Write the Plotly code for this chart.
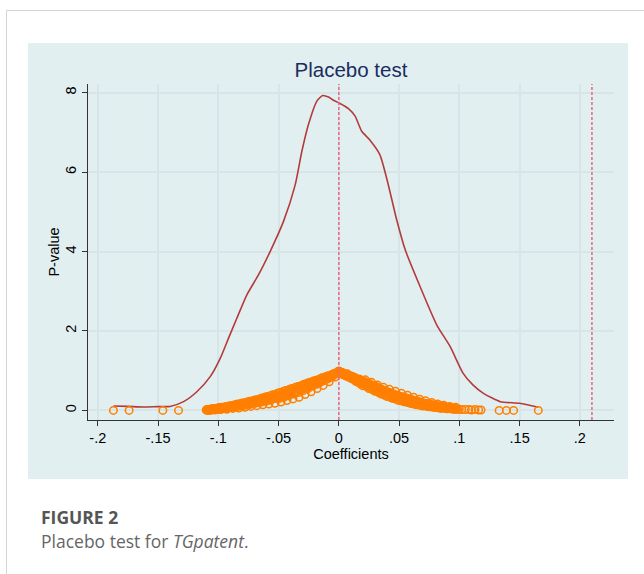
import plotly.graph_objects as go

# ---------------- data ----------------
# kernel density of placebo coefficients
kde_x = [-0.187, -0.175, -0.162, -0.150, -0.140, -0.1288, -0.1178, -0.1067, -0.0984, -0.0915,
         -0.0846, -0.0763, -0.0667, -0.0570, -0.0459, -0.0362, -0.0307, -0.0252, -0.0182, -0.0133,
         -0.0086, -0.0045, 0.001, 0.008, 0.0135, 0.019, 0.0254, 0.034, 0.040, 0.048,
         0.055, 0.0674, 0.0813, 0.0923, 0.103, 0.111, 0.120, 0.134, 0.150, 0.1655]
kde_y = [0.11, 0.10, 0.085, 0.095, 0.10, 0.22, 0.47, 0.85, 1.31, 1.82,
         2.32, 2.91, 3.41, 4.00, 4.76, 5.68, 6.52, 7.20, 7.79, 7.93,
         7.89, 7.81, 7.73, 7.60, 7.41, 7.03, 6.82, 6.44, 5.81, 4.80,
         4.05, 3.12, 2.15, 1.61, 0.94, 0.65, 0.43, 0.22, 0.18, 0.08]

# placebo coefficients (left of zero) and their p-values
coef_left = [-0.187, -0.174, -0.146, -0.133,
             -0.1100, -0.1090, -0.1080, -0.1070, -0.1060, -0.1050, -0.1040, -0.1030, -0.1020, -0.1010,
             -0.1000, -0.0990, -0.0980, -0.0970, -0.0960, -0.0950, -0.0940, -0.0930, -0.0920, -0.0910,
             -0.0900, -0.0890, -0.0880, -0.0870, -0.0860, -0.0850, -0.0840, -0.0830, -0.0820, -0.0810,
             -0.0800, -0.0790, -0.0780, -0.0770, -0.0760, -0.0750, -0.0740, -0.0730, -0.0720, -0.0710,
             -0.0700, -0.0690, -0.0680, -0.0670, -0.0660, -0.0650, -0.0640, -0.0630, -0.0620, -0.0610,
             -0.0600, -0.0590, -0.0580, -0.0570, -0.0560, -0.0550, -0.0540, -0.0530, -0.0520, -0.0510,
             -0.0500, -0.0490, -0.0480, -0.0470, -0.0460, -0.0450, -0.0440, -0.0430, -0.0420, -0.0410,
             -0.0400, -0.0390, -0.0380, -0.0370, -0.0360, -0.0350, -0.0340, -0.0330, -0.0320, -0.0310,
             -0.0300, -0.0290, -0.0280, -0.0270, -0.0260, -0.0250, -0.0240, -0.0230, -0.0220, -0.0210,
             -0.0200, -0.0190, -0.0180, -0.0170, -0.0160, -0.0150, -0.0140, -0.0130, -0.0120, -0.0110,
             -0.0100, -0.0090, -0.0080, -0.0070, -0.0060, -0.0050, -0.0040, -0.0030, -0.0020, -0.0010,
             0.0000]
pval_left = [0.00, 0.00, 0.00, 0.00,
             0.01, 0.00, 0.02, 0.01, 0.03, 0.03, 0.04, 0.01, 0.05, 0.03,
             0.04, 0.07, 0.02, 0.06, 0.08, 0.06, 0.09, 0.03, 0.07, 0.11,
             0.08, 0.12, 0.05, 0.10, 0.14, 0.11, 0.16, 0.06, 0.12, 0.18,
             0.13, 0.19, 0.08, 0.15, 0.21, 0.16, 0.23, 0.10, 0.18, 0.25,
             0.19, 0.27, 0.12, 0.21, 0.29, 0.22, 0.31, 0.14, 0.24, 0.34,
             0.25, 0.35, 0.16, 0.27, 0.38, 0.29, 0.40, 0.18, 0.31, 0.43,
             0.33, 0.45, 0.21, 0.35, 0.48, 0.38, 0.50, 0.25, 0.40, 0.53,
             0.43, 0.55, 0.29, 0.45, 0.58, 0.48, 0.60, 0.33, 0.51, 0.63,
             0.54, 0.66, 0.40, 0.57, 0.69, 0.60, 0.71, 0.47, 0.63, 0.74,
             0.67, 0.76, 0.55, 0.69, 0.79, 0.73, 0.82, 0.63, 0.76, 0.85,
             0.80, 0.87, 0.72, 0.83, 0.90, 0.88, 0.93, 0.84, 0.94, 0.97,
             0.99]

# further placebo draws, left of zero
coef_left2 = [-0.1095, -0.1085, -0.1075, -0.1065, -0.1055, -0.1045, -0.1035, -0.1025, -0.1015, -0.1005,
              -0.0995, -0.0985, -0.0975, -0.0965, -0.0955, -0.0945, -0.0935, -0.0925, -0.0915, -0.0905,
              -0.0895, -0.0885, -0.0875, -0.0865, -0.0855, -0.0845, -0.0835, -0.0825, -0.0815, -0.0805,
              -0.0795, -0.0785, -0.0775, -0.0765, -0.0755, -0.0745, -0.0735, -0.0725, -0.0715, -0.0705,
              -0.0695, -0.0685, -0.0675, -0.0665, -0.0655, -0.0645, -0.0635, -0.0625, -0.0615, -0.0605,
              -0.0595, -0.0585, -0.0575, -0.0565, -0.0555, -0.0545, -0.0535, -0.0525, -0.0515, -0.0505,
              -0.0495, -0.0485, -0.0475, -0.0465, -0.0455, -0.0445, -0.0435, -0.0425, -0.0415, -0.0405,
              -0.0395, -0.0385, -0.0375, -0.0365, -0.0355, -0.0345, -0.0335, -0.0325, -0.0315, -0.0305,
              -0.0295, -0.0285, -0.0275, -0.0265, -0.0255, -0.0245, -0.0235, -0.0225, -0.0215, -0.0205,
              -0.0195, -0.0185, -0.0175, -0.0165, -0.0155, -0.0145, -0.0135, -0.0125, -0.0115, -0.0105,
              -0.0095, -0.0085, -0.0075, -0.0065, -0.0055, -0.0045, -0.0035, -0.0025, -0.0015, -0.0005]
pval_left2 = [0.02, 0.01, 0.02, 0.00, 0.04, 0.02, 0.03, 0.05, 0.02, 0.06,
              0.04, 0.05, 0.08, 0.04, 0.07, 0.05, 0.09, 0.06, 0.08, 0.11,
              0.07, 0.09, 0.13, 0.08, 0.12, 0.10, 0.14, 0.11, 0.15, 0.12,
              0.16, 0.13, 0.18, 0.14, 0.17, 0.20, 0.15, 0.21, 0.17, 0.23,
              0.18, 0.22, 0.25, 0.19, 0.26, 0.21, 0.28, 0.23, 0.27, 0.30,
              0.24, 0.32, 0.26, 0.33, 0.28, 0.35, 0.30, 0.37, 0.32, 0.39,
              0.30, 0.40, 0.36, 0.42, 0.33, 0.44, 0.39, 0.47, 0.37, 0.49,
              0.43, 0.51, 0.41, 0.53, 0.46, 0.55, 0.45, 0.58, 0.52, 0.60,
              0.50, 0.62, 0.58, 0.64, 0.55, 0.67, 0.62, 0.69, 0.61, 0.72,
              0.68, 0.74, 0.66, 0.76, 0.71, 0.79, 0.74, 0.81, 0.78, 0.84,
              0.79, 0.86, 0.84, 0.88, 0.86, 0.91, 0.90, 0.93, 0.95, 0.98]

# placebo coefficients (right of zero) and their p-values
coef_right = [0.0010, 0.0020, 0.0030, 0.0040, 0.0050, 0.0060, 0.0070, 0.0080, 0.0090, 0.0100,
              0.0110, 0.0120, 0.0130, 0.0140, 0.0150, 0.0160, 0.0170, 0.0180, 0.0190, 0.0200,
              0.0210, 0.0220, 0.0230, 0.0240, 0.0250, 0.0260, 0.0270, 0.0280, 0.0290, 0.0300,
              0.0310, 0.0320, 0.0330, 0.0340, 0.0350, 0.0360, 0.0370, 0.0380, 0.0390, 0.0400,
              0.0410, 0.0420, 0.0430, 0.0440, 0.0450, 0.0460, 0.0470, 0.0480, 0.0490, 0.0500,
              0.0510, 0.0520, 0.0530, 0.0540, 0.0550, 0.0560, 0.0570, 0.0580, 0.0590, 0.0600,
              0.0610, 0.0620, 0.0630, 0.0640, 0.0650, 0.0660, 0.0670, 0.0680, 0.0690, 0.0700,
              0.0710, 0.0720, 0.0730, 0.0740, 0.0750, 0.0760, 0.0770, 0.0780, 0.0790, 0.0800,
              0.0810, 0.0820, 0.0830, 0.0840, 0.0850, 0.0860, 0.0870, 0.0880, 0.0890, 0.0900,
              0.0910, 0.0920, 0.0930, 0.0940, 0.0950, 0.0960, 0.0970, 0.0980,
              0.100, 0.102, 0.105, 0.108, 0.110, 0.113, 0.116, 0.118,
              0.133, 0.139, 0.145, 0.1655]
pval_right = [0.97, 0.93, 0.95, 0.89, 0.92, 0.88, 0.92, 0.84, 0.88, 0.81,
              0.86, 0.78, 0.83, 0.73, 0.79, 0.71, 0.79, 0.66, 0.74, 0.62,
              0.70, 0.77, 0.60, 0.68, 0.55, 0.63, 0.71, 0.52, 0.60, 0.48,
              0.56, 0.64, 0.45, 0.53, 0.41, 0.50, 0.58, 0.38, 0.47, 0.35,
              0.44, 0.53, 0.32, 0.41, 0.30, 0.38, 0.48, 0.27, 0.36, 0.25,
              0.33, 0.43, 0.23, 0.31, 0.21, 0.29, 0.38, 0.19, 0.27, 0.17,
              0.25, 0.33, 0.15, 0.23, 0.14, 0.21, 0.28, 0.12, 0.19, 0.11,
              0.17, 0.24, 0.10, 0.15, 0.09, 0.14, 0.20, 0.08, 0.12, 0.07,
              0.11, 0.16, 0.06, 0.10, 0.05, 0.09, 0.13, 0.05, 0.08, 0.04,
              0.07, 0.10, 0.04, 0.06, 0.03, 0.05, 0.08, 0.03,
              0.03, 0.02, 0.02, 0.02, 0.01, 0.02, 0.01, 0.01,
              0.00, 0.00, 0.00, 0.00]

# further placebo draws, right of zero
coef_right2 = [0.0005, 0.0015, 0.0025, 0.0035, 0.0045, 0.0055, 0.0065, 0.0075, 0.0085, 0.0095,
               0.0105, 0.0115, 0.0125, 0.0135, 0.0145, 0.0155, 0.0165, 0.0175, 0.0185, 0.0195,
               0.0205, 0.0215, 0.0225, 0.0235, 0.0245, 0.0255, 0.0265, 0.0275, 0.0285, 0.0295,
               0.0305, 0.0315, 0.0325, 0.0335, 0.0345, 0.0355, 0.0365, 0.0375, 0.0385, 0.0395,
               0.0405, 0.0415, 0.0425, 0.0435, 0.0445, 0.0455, 0.0465, 0.0475, 0.0485, 0.0495,
               0.0505, 0.0515, 0.0525, 0.0535, 0.0545, 0.0555, 0.0565, 0.0575, 0.0585, 0.0595,
               0.0605, 0.0615, 0.0625, 0.0635, 0.0645, 0.0655, 0.0665, 0.0675, 0.0685, 0.0695,
               0.0705, 0.0715, 0.0725, 0.0735, 0.0745, 0.0755, 0.0765, 0.0775, 0.0785, 0.0795,
               0.0805, 0.0815, 0.0825, 0.0835, 0.0845, 0.0855, 0.0865, 0.0875, 0.0885, 0.0895,
               0.0905, 0.0915, 0.0925, 0.0935, 0.0945, 0.0955, 0.0965, 0.0975]
pval_right2 = [0.98, 0.95, 0.96, 0.92, 0.90, 0.91, 0.86, 0.89, 0.86, 0.83,
               0.85, 0.81, 0.80, 0.82, 0.76, 0.78, 0.74, 0.76, 0.70, 0.72,
               0.67, 0.73, 0.64, 0.66, 0.62, 0.68, 0.58, 0.61, 0.56, 0.63,
               0.53, 0.59, 0.50, 0.56, 0.47, 0.53, 0.45, 0.51, 0.42, 0.48,
               0.40, 0.46, 0.37, 0.44, 0.35, 0.41, 0.33, 0.39, 0.31, 0.37,
               0.29, 0.35, 0.27, 0.34, 0.25, 0.32, 0.24, 0.30, 0.22, 0.28,
               0.21, 0.26, 0.19, 0.24, 0.18, 0.23, 0.16, 0.21, 0.15, 0.19,
               0.14, 0.18, 0.13, 0.17, 0.12, 0.16, 0.11, 0.14, 0.10, 0.13,
               0.09, 0.12, 0.08, 0.11, 0.07, 0.10, 0.07, 0.09, 0.06, 0.08,
               0.05, 0.07, 0.05, 0.06, 0.04, 0.05, 0.03, 0.04]

vlines = [0.0, 0.21]
x_ticks = [-0.2, -0.15, -0.1, -0.05, 0, 0.05, 0.1, 0.15, 0.2]
x_ticktext = ["-.2", "-.15", "-.1", "-.05", "0", ".05", ".1", ".15", ".2"]
y_ticks = [0, 2, 4, 6, 8]

# ---------------- layout geometry (pixels) ----------------
W, H = 644, 574
L, R, T, B = 88, 614, 84, 420
pw, ph = R - L, B - T


def px(xp):
    return (xp - L) / pw


def py(yp):
    return (B - yp) / ph


fig = go.Figure()

fig.add_trace(go.Scatter(
    x=kde_x, y=kde_y, mode="lines",
    line=dict(color="#b33b3b", width=1.6, shape="spline", smoothing=0.6),
    hoverinfo="skip", showlegend=False))

fig.add_trace(go.Scatter(
    x=coef_left + coef_left2 + coef_right + coef_right2,
    y=pval_left + pval_left2 + pval_right + pval_right2, mode="markers",
    marker=dict(symbol="circle-open", size=7.5, color="#ff7f00", line=dict(width=1.5, color="#ff7f00")),
    showlegend=False))

shapes = []
# outer panel (graph region)
shapes.append(dict(type="rect", xref="paper", yref="paper",
                   x0=px(28), x1=px(628), y0=py(479), y1=py(43),
                   fillcolor="#e2eff0", line=dict(width=0), layer="below"))
# page border lines
shapes.append(dict(type="line", xref="paper", yref="paper",
                   x0=px(6.5), x1=px(644), y0=py(10.5), y1=py(10.5),
                   line=dict(color="#d4d4d4", width=1)))
shapes.append(dict(type="line", xref="paper", yref="paper",
                   x0=px(6.5), x1=px(6.5), y0=py(10.5), y1=py(574),
                   line=dict(color="#d4d4d4", width=1)))
for v in vlines:
    shapes.append(dict(type="line", xref="x", yref="paper", x0=v, x1=v, y0=0, y1=1,
                       line=dict(color="#f0657c", width=1.5, dash="3px,2px")))

annotations = [
    dict(text="<b>FIGURE 2</b>", xref="paper", yref="paper", x=px(39), y=py(517),
         xanchor="left", yanchor="middle", showarrow=False,
         font=dict(family="Open Sans, Lato, sans-serif", size=17.5, color="#555555")),
    dict(text="Placebo test for <i>TGpatent</i>.", xref="paper", yref="paper", x=px(39), y=py(541),
         xanchor="left", yanchor="middle", showarrow=False,
         font=dict(family="Open Sans, Lato, sans-serif", size=17.5, color="#666666")),
]

fig.update_layout(
    width=W, height=H,
    margin=dict(l=L, r=W - R, t=T, b=H - B),
    paper_bgcolor="white", plot_bgcolor="white",
    shapes=shapes, annotations=annotations,
    title=dict(text="Placebo test", x=px((L + R) / 2), xref="paper", xanchor="center",
               y=1 - 70 / H, yanchor="middle",
               font=dict(family="Liberation Sans, Arial, sans-serif", size=20.5, color="#1a2d5e")),
    font=dict(family="Liberation Sans, Arial, sans-serif", size=14.5, color="black"),
)

fig.update_xaxes(
    range=[-0.2081, 0.2283], tickvals=x_ticks, ticktext=x_ticktext,
    showgrid=True, gridcolor="#d7e5e9", gridwidth=1.5, zeroline=False,
    showline=True, linecolor="#333333", linewidth=1,
    ticks="outside", ticklen=5, tickcolor="#333333",
    tickfont=dict(size=14.5), title=dict(text="Coefficients", font=dict(size=14.5), standoff=2),
)
fig.update_yaxes(
    range=[-0.242, 8.22], tickvals=y_ticks, tickangle=-90,
    showgrid=True, gridcolor="#d7e5e9", gridwidth=1.5, zeroline=False,
    showline=True, linecolor="#333333", linewidth=1,
    ticks="outside", ticklen=5, tickcolor="#333333",
    tickfont=dict(size=14.5), title=dict(text="P-value", font=dict(size=14.5), standoff=0),
)

fig.write_html("out.html", config={"displayModeBar": False},
               post_script="document.body.style.margin='0';document.body.style.padding='0';")
